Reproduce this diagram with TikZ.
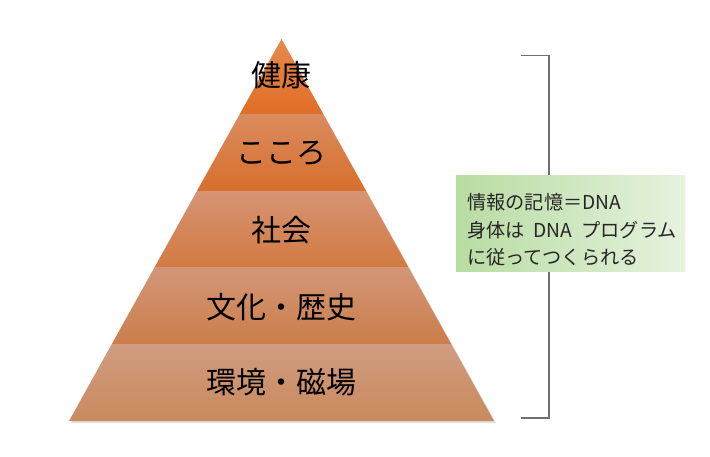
\documentclass[tikz,border=0pt]{standalone}
\usepackage{fontspec}
\newfontfamily\jp{Noto Sans CJK JP}
\definecolor{aT}{HTML}{E68A4E}\definecolor{aB}{HTML}{E06E26}
\definecolor{bT}{HTML}{DA8C60}\definecolor{bB}{HTML}{D86E2C}
\definecolor{cT}{HTML}{D79474}\definecolor{cB}{HTML}{D27A42}
\definecolor{dT}{HTML}{D39678}\definecolor{dB}{HTML}{CB7E4A}
\definecolor{eT}{HTML}{D09C80}\definecolor{eB}{HTML}{C98A5E}
\definecolor{gL}{HTML}{B8DCA2}\definecolor{gR}{HTML}{E6F2DE}
\definecolor{brk}{HTML}{707070}
\tikzset{
  lvl/.style={font=\jp\fontsize{30}{33}\selectfont, text=black, inner sep=0pt},
  note/.style={font=\jp\fontsize{19.2}{23}\selectfont, text=black!85, inner sep=0pt, anchor=west},
}
\begin{document}
\begin{tikzpicture}[x=1pt,y=1pt]
\useasboundingbox (0,0) rectangle (710,456);
% shadow
\fill[black,opacity=0.12] (283.5,414) -- (496,33) -- (71,33) -- cycle;
% layers
\shade[top color=aT,bottom color=aB] (281.5,417) -- (323.2,342) -- (239.8,342) -- cycle;
\shade[top color=bT,bottom color=bB] (239.8,342) -- (323.2,342) -- (366.1,265) -- (196.9,265) -- cycle;
\shade[top color=cT,bottom color=cB] (196.9,265) -- (366.1,265) -- (408.3,189) -- (154.7,189) -- cycle;
\shade[top color=dT,bottom color=dB] (154.7,189) -- (408.3,189) -- (451.2,112) -- (111.8,112) -- cycle;
\shade[top color=eT,bottom color=eB] (111.8,112) -- (451.2,112) -- (494,35) -- (69,35) -- cycle;
% labels
\node[lvl] (kenko) at (281.5,381) {健康};
\node[lvl] (kokoro) at (281.5,303) {こころ};
\node[lvl] (shakai) at (281.5,226) {社会};
\node[lvl] (bunka) at (281.5,149) {文化・歴史};
\node[lvl] (kankyo) at (281.5,74) {環境・磁場};
% bracket
\draw[brk,line width=1.5pt] (521,400.5) -- (549,400.5) -- (549,38) -- (521,38);
% note box
\shade[left color=gL,right color=gR] (456,185) rectangle (685,280);
\node[note] (n1) at (467,254) {情報の記憶＝DNA};
\node[note] (n2) at (467,226) {身体は\hspace{9pt}DNA\hspace{9pt}プログラム};
\node[note] (n3) at (467,199) {に従ってつくられる};
\end{tikzpicture}
\end{document}
